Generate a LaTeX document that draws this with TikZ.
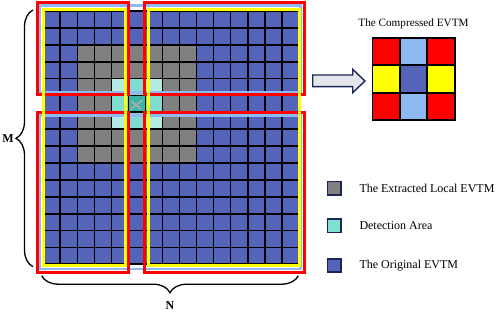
\documentclass[tikz,border=0pt]{standalone}
\usepackage{fontspec}
\setmainfont{Liberation Serif}
\usetikzlibrary{decorations.pathreplacing}
\definecolor{evblue}{RGB}{84,100,185}
\definecolor{evgray}{RGB}{128,128,128}
\definecolor{evcyanA}{RGB}{180,236,228}
\definecolor{evcyanB}{RGB}{128,220,206}
\definecolor{evcyanC}{RGB}{62,180,166}
\definecolor{evcyanL}{RGB}{128,224,208}
\definecolor{lblue}{RGB}{142,186,242}
\definecolor{evred}{RGB}{255,0,0}
\definecolor{evyellow}{RGB}{255,255,0}
\definecolor{navy}{RGB}{28,38,84}
\definecolor{arrfill}{RGB}{228,230,236}
\begin{document}
\begin{tikzpicture}[x=1pt,y=-1pt,
  cell/.style={draw=black, line width=1.7pt},
  redbox/.style={draw=evred, line width=3pt},
  ybox/.style={draw=evyellow, line width=3pt},
  bbox/.style={draw=lblue, line width=2.8pt},
  legsq/.style={draw=navy, line width=1.8pt, minimum size=13.4pt, inner sep=0pt},
  legtxt/.style={anchor=west, font=\fontsize{12}{14}\selectfont, inner sep=0pt},
  ccell/.style={draw=black, line width=1.6pt, minimum width=27.45pt, minimum height=27pt, inner sep=0pt},
  brc/.style={decorate, decoration={brace, amplitude=17pt}, line width=1.3pt},
  lab/.style={font=\bfseries\fontsize{12}{14}\selectfont, inner sep=0pt},
]
\useasboundingbox (0,0) rectangle (498,312);
\fill[white] (0,0) rectangle (498,312);
\def\gx{43.3}\def\gy{11}\def\px{17.03}\def\py{16.89}
% original EVTM
\foreach \i in {0,...,14}\foreach \j in {0,...,14}
  \filldraw[cell, fill=evblue] ({\gx+\i*\px},{\gy+\j*\py}) rectangle ++(\px,\py);
% extracted local EVTM
\foreach \i in {2,...,8}\foreach \j in {2,...,8}
  \filldraw[cell, fill=evgray] ({\gx+\i*\px},{\gy+\j*\py}) rectangle ++(\px,\py);
% detection area
\foreach \i/\j in {4/4,6/4,4/6,6/6}
  \filldraw[cell, fill=evcyanA] ({\gx+\i*\px},{\gy+\j*\py}) rectangle ++(\px,\py);
\foreach \i/\j in {5/4,4/5,6/5,5/6}
  \filldraw[cell, fill=evcyanB] ({\gx+\i*\px},{\gy+\j*\py}) rectangle ++(\px,\py);
\filldraw[cell, fill=evcyanC] ({\gx+5*\px},{\gy+5*\py}) rectangle ++(\px,\py);
% small icon in the centre cell
\draw[line width=1.6pt, color={rgb,255:red,170;green,176;blue,176}] (131,109) -- (142,100.5);
\draw[line width=1.6pt, color={rgb,255:red,170;green,176;blue,176}] (131.5,101.5) -- (141,109);
% light blue bands
\draw[bbox] (39.7,5.7) rectangle (300.5,92.2);
\draw[bbox] (39.7,115.5) rectangle (300.5,269);
% red blocks
\draw[redbox] (37,2.8) rectangle (128.8,94.8);
\draw[redbox] (144.2,2.8) rectangle (304,94.8);
\draw[redbox] (37,112.8) rectangle (128.8,272.7);
\draw[redbox] (144.2,112.8) rectangle (304,272.7);
% yellow bands
\draw[ybox] (43,9.5) rectangle (125.8,266);
\draw[ybox] (148,9.5) rectangle (299.3,266);
% braces
\coordinate (mb) at (33,266.7);
\coordinate (mt) at (33,10);
\draw[brc] (mb) -- (mt);
\node[lab] (M) at (8,138.3) {M};
\coordinate (nr) at (298.3,275.7);
\coordinate (nl) at (41.7,275.7);
\draw[brc] (nr) -- (nl);
\node[lab] (N) at (170,305.7) {N};
% block arrow
\filldraw[draw=navy, fill=arrfill, line width=1.4pt, line join=miter]
  (312.7,75) -- (352.7,75) -- (352.7,69.3) -- (365,81) -- (352.7,92.7)
  -- (352.7,86.7) -- (312.7,86.7) -- cycle;
% compressed EVTM
\node[font=\fontsize{11.2}{13}\selectfont, inner sep=0pt] (title) at (413.5,23.5) {The Compressed EVTM};
\def\cx{386.4}\def\cy{51.8}\def\cp{27.3}
\node[ccell, fill=evred]    (c00) at (\cx,\cy) {};
\node[ccell, fill=lblue]    (c10) at (\cx+\cp,\cy) {};
\node[ccell, fill=evred]    (c20) at (\cx+2*\cp,\cy) {};
\node[ccell, fill=evyellow] (c01) at (\cx,\cy+\cp) {};
\node[ccell, fill=evblue]   (c11) at (\cx+\cp,\cy+\cp) {};
\node[ccell, fill=evyellow] (c21) at (\cx+2*\cp,\cy+\cp) {};
\node[ccell, fill=evred]    (c02) at (\cx,\cy+2*\cp) {};
\node[ccell, fill=lblue]    (c12) at (\cx+\cp,\cy+2*\cp) {};
\node[ccell, fill=evred]    (c22) at (\cx+2*\cp,\cy+2*\cp) {};
% legend
\node[legsq, fill=evgray] (lg1) at (334.2,188.3) {};
\node[legtxt] (lt1) at (359.3,188.3) {The Extracted Local EVTM};
\node[legsq, fill=evcyanL] (lg2) at (334.2,225.8) {};
\node[legtxt] (lt2) at (359.3,225.8) {Detection Area};
\node[legsq, fill=evblue] (lg3) at (334.2,265.5) {};
\node[legtxt] (lt3) at (359.3,265.5) {The Original EVTM};
\end{tikzpicture}
\end{document}
